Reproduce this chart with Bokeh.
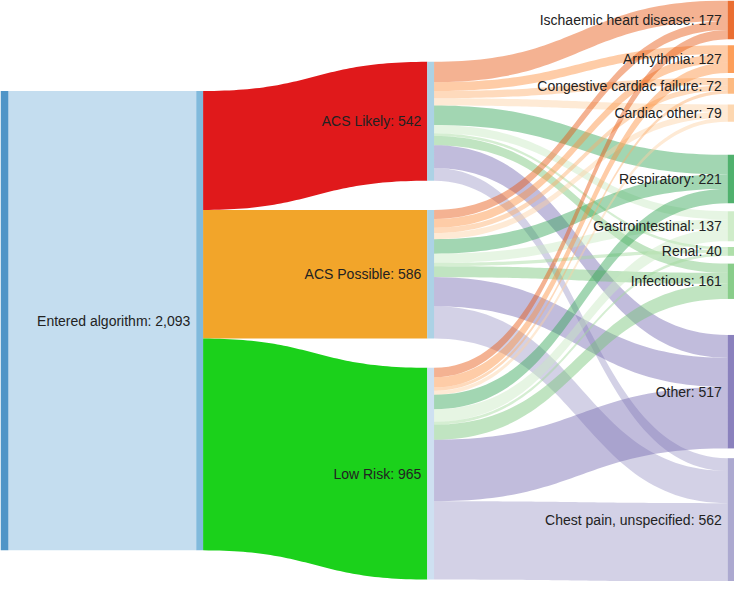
import numpy as np
from bokeh.plotting import figure
from bokeh.models import ColumnDataSource, Range1d
from bokeh.core.properties import value
from bokeh.embed import file_html
from bokeh.resources import INLINE

# ---------------- data ----------------
entered_label = "Entered algorithm"
entered_total = 2093
risk_groups = ["ACS Likely", "ACS Possible", "Low Risk"]
risk_totals = [542, 586, 965]
diagnoses = ["Ischaemic heart disease", "Arrhythmia", "Congestive cardiac failure",
             "Cardiac other", "Respiratory", "Gastrointestinal", "Renal",
             "Infectious", "Other", "Chest pain, unspecified"]
acs_likely_flows = [93, 40, 33, 33, 89, 38, 12, 42, 104, 58]
acs_possible_flows = [41, 40, 24, 28, 66, 42, 15, 50, 133, 147]
low_risk_flows = [43, 47, 15, 18, 66, 57, 13, 69, 280, 357]

# ---------------- styles / layout ----------------
risk_colors = ["#e0191b", "#f2a52a", "#1bd11b"]
risk_node_colors = ["#9ecae1", "#9ecae1", "#c6dbef"]
diag_colors = ["#e6550d", "#fd8d3c", "#fdae6b", "#fdd0a2",
               "#31a354", "#c7e9c0", "#a1d99b", "#74c476",
               "#756bb1", "#9e9ac8"]
col_x = [0, 200, 436, 743]
node_w = [8, 7, 7, 7]
W, H = 750, 597
col01_top = 93
col2_top, col2_gap = 63, 30
col3_top = 0
col3_gaps = [6, 5, 11, 34, 8, 6, 8, 37, 10]
scale = 472.0 / entered_total
label_pad = 6

flows = [acs_likely_flows, acs_possible_flows, low_risk_flows]
diag_totals = [sum(f[j] for f in flows) for j in range(len(diagnoses))]

# node positions
c01 = (col01_top, col01_top + entered_total * scale)
c2 = []
y = col2_top
for v in risk_totals:
    c2.append((y, y + v * scale))
    y += v * scale + col2_gap
c3 = []
y = col3_top
for i, v in enumerate(diag_totals):
    c3.append((y, y + v * scale))
    if i < len(col3_gaps):
        y += v * scale + col3_gaps[i]


def band(x0, x1, y0t, y0b, y1t, y1b, n=60):
    t = np.linspace(0, 1, n)
    xm = (x0 + x1) / 2.0
    bx = (1 - t) ** 3 * x0 + 3 * (1 - t) ** 2 * t * xm + 3 * (1 - t) * t ** 2 * xm + t ** 3 * x1

    def by(a, b):
        return (1 - t) ** 3 * a + 3 * (1 - t) ** 2 * t * a + 3 * (1 - t) * t ** 2 * b + t ** 3 * b
    top = by(y0t, y1t)
    bot = by(y0b, y1b)
    return list(np.concatenate([bx, bx[::-1]])), list(np.concatenate([top, bot[::-1]]))


xs, ys, fc, fa = [], [], [], []
# col0 -> col1
bx, byy = band(col_x[0] + node_w[0], col_x[1], c01[0], c01[1], c01[0], c01[1])
xs.append(bx); ys.append(byy); fc.append("#c4ddef"); fa.append(1.0)
# col1 -> col2
y0 = c01[0]
for i, v in enumerate(risk_totals):
    h = v * scale
    bx, byy = band(col_x[1] + node_w[1], col_x[2], y0, y0 + h, c2[i][0], c2[i][1])
    xs.append(bx); ys.append(byy); fc.append(risk_colors[i]); fa.append(1.0)
    y0 += h
# col2 -> col3
src_off = [c2[i][0] for i in range(3)]
tgt_off = [c3[j][0] for j in range(len(diagnoses))]
for i in range(3):
    for j in range(len(diagnoses)):
        h = flows[i][j] * scale
        bx, byy = band(col_x[2] + node_w[2], col_x[3],
                       src_off[i], src_off[i] + h, tgt_off[j], tgt_off[j] + h)
        src_off[i] += h
        tgt_off[j] += h
        xs.append(bx); ys.append(byy); fc.append(diag_colors[j]); fa.append(0.45)

# nodes
nl, nr, nt, nb, nc = [], [], [], [], []
nl += [col_x[0], col_x[1]]; nr += [col_x[0] + node_w[0], col_x[1] + node_w[1]]
nt += [c01[0], c01[0]]; nb += [c01[1], c01[1]]; nc += ["#3182bd", "#6baed6"]
for i in range(3):
    nl.append(col_x[2]); nr.append(col_x[2] + node_w[2])
    nt.append(c2[i][0]); nb.append(c2[i][1]); nc.append(risk_node_colors[i])
for j in range(len(diagnoses)):
    nl.append(col_x[3]); nr.append(col_x[3] + node_w[3])
    nt.append(c3[j][0]); nb.append(c3[j][1]); nc.append(diag_colors[j])

# labels
lx, ly, lt = [], [], []
lx.append(col_x[1] - label_pad); ly.append(sum(c01) / 2); lt.append(f"{entered_label}: {entered_total:,}")
for i, g in enumerate(risk_groups):
    lx.append(col_x[2] - label_pad); ly.append(sum(c2[i]) / 2); lt.append(f"{g}: {risk_totals[i]:,}")
for j, d in enumerate(diagnoses):
    lx.append(col_x[3] - label_pad); ly.append(sum(c3[j]) / 2); lt.append(f"{d}: {diag_totals[j]:,}")

p = figure(width=734, height=581, output_backend="svg", toolbar_location=None,
           x_range=Range1d(0, W), y_range=Range1d(H, 0), min_border=0)
p.axis.visible = False
p.grid.visible = False
p.outline_line_color = None
p.background_fill_color = "white"

p.patches(xs="xs", ys="ys", fill_color="fc", fill_alpha="fa", line_color=None,
          source=ColumnDataSource(dict(xs=xs, ys=ys, fc=fc, fa=fa)))
p.quad(left="l", right="r", top="t", bottom="b", fill_color="c", fill_alpha=0.85, line_color=None,
       source=ColumnDataSource(dict(l=nl, r=nr, t=nt, b=nb, c=nc)))
p.text(x="x", y="y", text="t", source=ColumnDataSource(dict(x=lx, y=ly, t=lt)),
       text_align="right", text_baseline="middle", text_font=value("Liberation Sans"),
       text_font_size="14px", text_color="#222222")

open("out.html", "w").write(file_html(p, INLINE))
